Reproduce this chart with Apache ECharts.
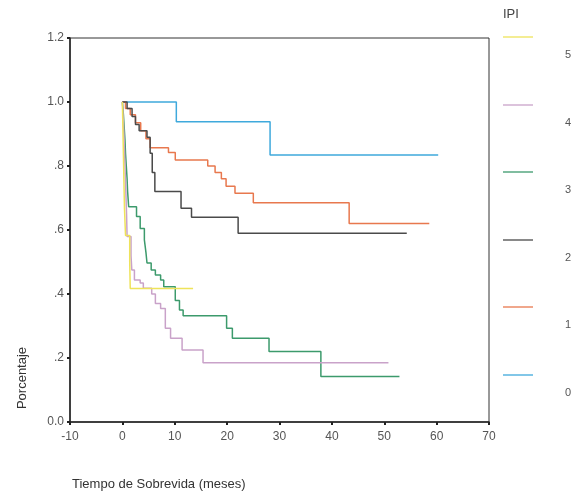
<!DOCTYPE html>
<html>
<head>
<meta charset="utf-8">
<script src="https://cdn.jsdelivr.net/npm/echarts@6/dist/echarts.min.js"></script>
<style>html,body{margin:0;padding:0;background:#fff;}#c{width:582px;height:500px;}</style>
</head>
<body>
<div id="c"></div>
<script>
// ---- data (time in months, survival proportion) ----
var groupNames = ['5', '4', '3', '2', '1', '0'];
var groupColors = ['#eee35a', '#c9a2c9', '#3c9a6c', '#4a4a4a', '#e8784e', '#3fa9dc'];

var ipi5Time = [0, 0.1, 0.2, 0.3, 0.4, 0.6, 1.4, 1.5, 13.5];
var ipi5Surv = [1, 0.917, 0.833, 0.75, 0.667, 0.583, 0.5, 0.417, 0.417];

var ipi4Time = [0, 0.15, 0.3, 0.4, 0.5, 0.6, 0.7, 0.8, 0.9, 1.65, 1.8, 2.3, 3.4, 4.0, 5.6, 6.3, 7.3, 8.2, 9.2, 11.4, 15.4, 50.8];
var ipi4Surv = [1, 0.95, 0.9, 0.85, 0.8, 0.75, 0.7, 0.65, 0.58, 0.52, 0.475, 0.444, 0.434, 0.418, 0.4, 0.37, 0.355, 0.293, 0.262, 0.225, 0.185, 0.185];

var ipi3Time = [0, 0.2, 0.35, 0.5, 0.6, 0.75, 0.9, 1.0, 1.2, 2.7, 3.4, 4.2, 4.5, 4.7, 5.5, 6.3, 7.3, 7.9, 10.1, 10.9, 11.6, 19.9, 21.0, 28.0, 37.9, 52.9];
var ipi3Surv = [1, 0.96, 0.92, 0.88, 0.84, 0.8, 0.76, 0.72, 0.673, 0.642, 0.605, 0.569, 0.53, 0.497, 0.475, 0.459, 0.444, 0.423, 0.38, 0.35, 0.332, 0.293, 0.262, 0.22, 0.142, 0.142];

var ipi2Time = [0, 0.9, 1.85, 2.5, 3.2, 4.7, 5.3, 5.7, 6.2, 11.2, 13.2, 22.1, 54.3];
var ipi2Surv = [1, 0.98, 0.955, 0.93, 0.91, 0.89, 0.84, 0.78, 0.72, 0.668, 0.64, 0.59, 0.59];

var ipi1Time = [0, 0.6, 1.5, 2.5, 3.5, 4.5, 5.3, 8.8, 10.1, 16.3, 17.7, 18.9, 19.8, 21.5, 25.0, 43.3, 58.6];
var ipi1Surv = [1, 0.98, 0.96, 0.935, 0.91, 0.885, 0.857, 0.842, 0.819, 0.8, 0.78, 0.76, 0.737, 0.715, 0.685, 0.62, 0.62];

var ipi0Time = [0, 10.3, 28.2, 60.3];
var ipi0Surv = [1, 0.938, 0.834, 0.834];

var xTicks = [-10, 0, 10, 20, 30, 40, 50, 60, 70];
var yTickLabels = ['0.0', '.2', '.4', '.6', '.8', '1.0', '1.2'];

var times = [ipi5Time, ipi4Time, ipi3Time, ipi2Time, ipi1Time, ipi0Time];
var survs = [ipi5Surv, ipi4Surv, ipi3Surv, ipi2Surv, ipi1Surv, ipi0Surv];

function zip(a, b) { return a.map(function (v, i) { return [v, b[i]]; }); }

var series = [];
for (var i = times.length - 1; i >= 0; i--) {
  series.push({
    name: groupNames[i],
    type: 'line',
    step: 'end',
    symbol: 'none',
    silent: true,
    z: 10 - i,
    lineStyle: { color: groupColors[i], width: 1.5 },
    data: zip(times[i], survs[i])
  });
}

var font = '"Liberation Sans", Arial, sans-serif';
var graphics = [];
graphics.push({ type: 'text', left: 503, top: 8, style: { text: 'IPI', font: '13px ' + font, fill: '#444' } });
var legY0 = 37, legStep = 67.6;
for (var k = 0; k < groupNames.length; k++) {
  var ly = Math.round(legY0 + k * legStep);
  graphics.push({ type: 'line', shape: { x1: 503, y1: ly, x2: 533, y2: ly }, style: { stroke: groupColors[k], lineWidth: 1.3 } });
  graphics.push({ type: 'text', x: 568, y: ly + 18, style: { text: groupNames[k], font: '11px ' + font, fill: '#555', align: 'center', verticalAlign: 'middle' } });
}
graphics.push({ type: 'text', x: 22, y: 378, rotation: Math.PI / 2, style: { text: 'Porcentaje', font: '13px ' + font, fill: '#333', align: 'center', verticalAlign: 'middle' } });
graphics.push({ type: 'text', x: 72, y: 484, style: { text: 'Tiempo de Sobrevida (meses)', font: '13px ' + font, fill: '#333', align: 'left', verticalAlign: 'middle' } });

var chart = echarts.init(document.getElementById('c'), null, { renderer: 'canvas' });
chart.setOption({
  animation: false,
  backgroundColor: '#fff',
  grid: { left: 70, top: 38, width: 419, height: 384, show: true, borderColor: '#333', borderWidth: 1, backgroundColor: 'transparent' },
  xAxis: {
    type: 'value', min: xTicks[0], max: xTicks[xTicks.length - 1], interval: 10,
    axisLine: { onZero: false, lineStyle: { color: '#222', width: 1.5 } },
    axisTick: { show: true, length: 3, lineStyle: { color: '#222', width: 2 } },
    axisLabel: { color: '#555', fontSize: 12, fontFamily: font, margin: 9 },
    splitLine: { show: false }
  },
  yAxis: {
    type: 'value', min: 0, max: 1.2, interval: 0.2,
    axisLine: { show: true, onZero: false, lineStyle: { color: '#222', width: 1.5 } },
    axisTick: { show: true, length: 3, lineStyle: { color: '#222', width: 2 } },
    axisLabel: { color: '#555', fontSize: 12, fontFamily: font, margin: 6,
      formatter: function (v) { return yTickLabels[Math.round(v / 0.2)]; } },
    splitLine: { show: false }
  },
  series: series,
  graphic: graphics
});
</script>
</body>
</html>
